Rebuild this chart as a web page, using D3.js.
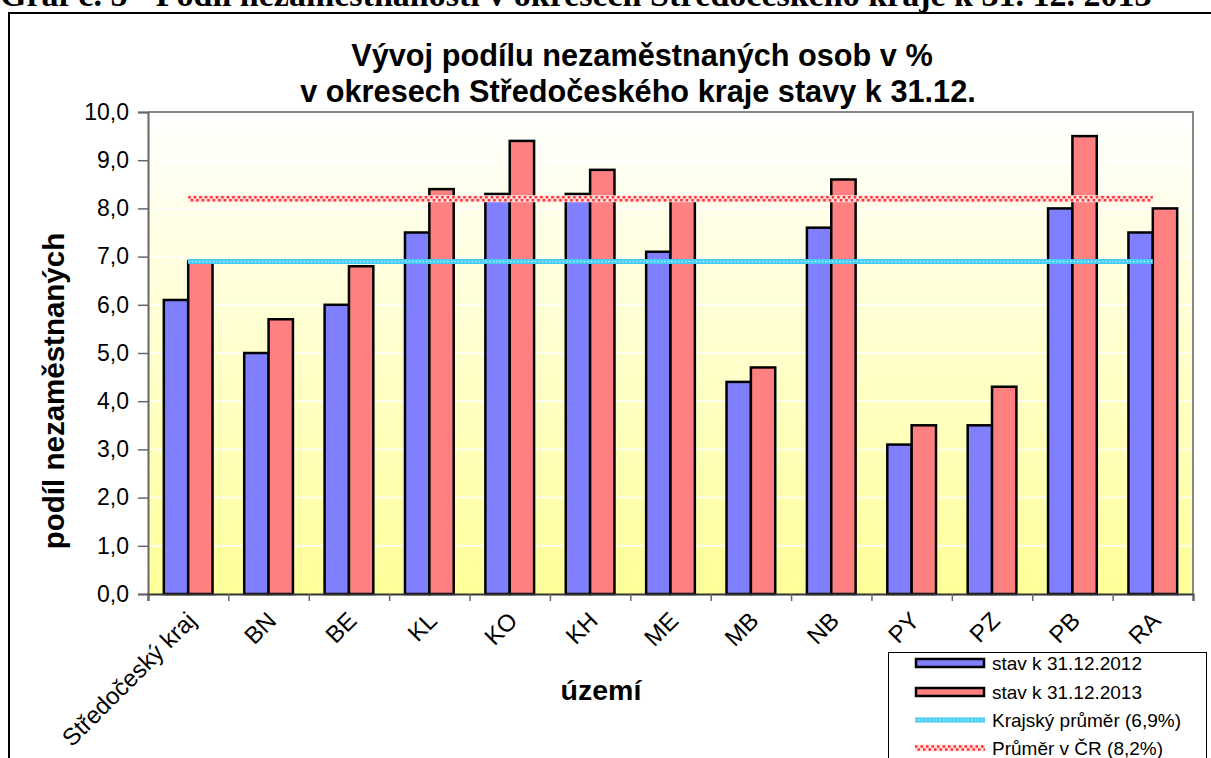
<!DOCTYPE html>
<html><head><meta charset="utf-8">
<script src="https://cdn.jsdelivr.net/npm/d3@7/dist/d3.min.js"></script>
<style>
body{margin:0;background:#fff;}
svg{display:block;font-family:"Liberation Sans",Arial,sans-serif;}
</style></head>
<body>
<svg id="c" width="1211" height="758"></svg>
<script>
const categories = ["Středočeský kraj","BN","BE","KL","KO","KH","ME","MB","NB","PY","PZ","PB","RA"];
const values2012 = [6.1,5.0,6.0,7.5,8.3,8.3,7.1,4.4,7.6,3.1,3.5,8.0,7.5];
const values2013 = [6.9,5.7,6.8,8.4,9.4,8.8,8.2,4.7,8.6,3.5,4.3,9.5,8.0];
const seriesNames = ["stav k 31.12.2012","stav k 31.12.2013"];
const krajAvg = 6.9;
const crAvg = 8.2;
const lineNames = ["Krajský průměr (6,9%)","Průměr v ČR (8,2%)"];
const yTicks = [0,1,2,3,4,5,6,7,8,9,10];

const svg = d3.select("#c");
const L=148, R=1193, T=112, B=594;
const fmt = d => d.toFixed(1).replace(".", ",");

// header (cut off at top edge as in the reference)
svg.append("text").attr("x",0).attr("y",6)
  .style("font-family","'Liberation Serif',serif").style("font-weight","bold").style("font-size","34px")
  .text("Graf č. 5 - Podíl nezaměstnanosti v okresech Středočeského kraje k 31. 12. 2013");
// outer frame
svg.append("path").attr("d",`M9,760 V13 H1215`).attr("fill","none").attr("stroke","#000").attr("stroke-width",2);

const defs = svg.append("defs");
const g = defs.append("linearGradient").attr("id","bg").attr("x1",0).attr("y1",0).attr("x2",0).attr("y2",1);
g.append("stop").attr("offset","0%").attr("stop-color","#ffffff");
g.append("stop").attr("offset","100%").attr("stop-color","#ffff99");

const x0 = d3.scaleBand().domain(categories).range([L,R]).padding(0);
const x1 = d3.scaleBand().domain(seriesNames).range([0,x0.bandwidth()]).paddingInner(0).paddingOuter(0.65);
const xt = d3.scaleLinear().domain([0,categories.length]).range([L,R]);
const y = d3.scaleLinear().domain([0,10]).range([B,T]);

svg.append("rect").attr("x",L).attr("y",T).attr("width",R-L).attr("height",B-T).attr("fill","url(#bg)");
// gridlines
svg.append("g").selectAll("line").data(yTicks.slice(1,-1)).join("line")
  .attr("x1",L).attr("x2",R).attr("y1",d=>y(d)).attr("y2",d=>y(d))
  .attr("stroke","#ffffff").attr("stroke-width",1.5);
// plot border top/right
svg.append("path").attr("d",`M${L},${T} H${R} V${B}`).attr("fill","none").attr("stroke","#888").attr("stroke-width",2);

// bars
const colors = ["#8080ff","#ff8080"];
const data = categories.map((c,i)=>({c, v:[values2012[i],values2013[i]]}));
const grp = svg.append("g").selectAll("g").data(data).join("g").attr("transform",d=>`translate(${x0(d.c)},0)`);
grp.selectAll("rect").data(d=>d.v.map((v,j)=>({v,j}))).join("rect")
  .attr("x",d=>x1(seriesNames[d.j])).attr("width",x1.bandwidth())
  .attr("y",d=>y(d.v)).attr("height",d=>B-y(d.v))
  .attr("fill",d=>colors[d.j]).attr("stroke","#000").attr("stroke-width",2.5);

// average lines
const c0 = x0(categories[0])+x0.bandwidth()/2, c1 = x0(categories[categories.length-1])+x0.bandwidth()/2;
function cyanLine(sel,xa,xb,yy){
  sel.append("line").attr("x1",xa).attr("x2",xb).attr("y1",yy).attr("y2",yy).attr("stroke","#44ccf4").attr("stroke-width",5);
  sel.append("line").attr("x1",xa).attr("x2",xb).attr("y1",yy).attr("y2",yy).attr("stroke","#b8ecff").attr("stroke-width",1.5).attr("stroke-dasharray","1.5,2");
}
function redLine(sel,xa,xb,yy){
  sel.append("line").attr("x1",xa).attr("x2",xb).attr("y1",yy).attr("y2",yy).attr("stroke","#ffe0e0").attr("stroke-width",7);
  sel.append("line").attr("x1",xa).attr("x2",xb).attr("y1",yy-1.5).attr("y2",yy-1.5).attr("stroke","#ff3030").attr("stroke-width",2.5).attr("stroke-dasharray","2.5,3");
  sel.append("line").attr("x1",xa+2.5).attr("x2",xb).attr("y1",yy+1.5).attr("y2",yy+1.5).attr("stroke","#ff3030").attr("stroke-width",2.5).attr("stroke-dasharray","2.5,3");
}
const lg = svg.append("g");
cyanLine(lg,c0,c1,y(krajAvg));
redLine(lg,c0,c1,y(crAvg));

// axes
const ya = svg.append("g").attr("transform",`translate(${L},0)`)
  .call(d3.axisLeft(y).tickValues(yTicks).tickFormat(fmt).tickSizeOuter(0).tickSize(10).tickPadding(9));
ya.select(".domain").attr("stroke","#666").attr("stroke-width",2);
ya.selectAll(".tick line").attr("stroke","#666").attr("stroke-width",1.5);
ya.selectAll(".tick text").style("font-size","23px").style("font-family","'Liberation Sans',Arial,sans-serif").attr("fill","#000");

const xa = svg.append("g").attr("transform",`translate(0,${B})`)
  .call(d3.axisBottom(xt).tickValues(d3.range(categories.length+1)).tickFormat("").tickSizeOuter(0).tickSize(7));
xa.select(".domain").attr("stroke","#333").attr("stroke-width",2);
xa.selectAll(".tick line").attr("stroke","#666").attr("stroke-width",1.5);

svg.append("g").selectAll("text").data(categories).join("text")
  .attr("transform",d=>`translate(${x0(d)+x0.bandwidth()/2-3},${B+16}) rotate(-45)`)
  .attr("text-anchor","end").attr("dy","0.72em").style("font-size","24px").text(d=>d);

// titles
svg.append("text").attr("x",642).attr("y",66).attr("text-anchor","middle")
  .style("font-weight","bold").style("font-size","30.7px").text("Vývoj podílu nezaměstnaných osob v %");
svg.append("text").attr("x",638).attr("y",102).attr("text-anchor","middle")
  .style("font-weight","bold").style("font-size","30.7px").text("v okresech Středočeského kraje stavy k 31.12.");
svg.append("text").attr("transform","translate(64,391) rotate(-90)").attr("text-anchor","middle")
  .style("font-weight","bold").style("font-size","29.5px").text("podíl nezaměstnaných");
svg.append("text").attr("x",601).attr("y",700).attr("text-anchor","middle")
  .style("font-weight","bold").style("font-size","28.5px").text("území");

// legend
const leg = svg.append("g");
leg.append("rect").attr("x",888.5).attr("y",652.5).attr("width",318).attr("height",120).attr("fill","#fff").attr("stroke","#000").attr("stroke-width",1);
const rows = [663,692,720,748];
seriesNames.forEach((n,i)=>{
  leg.append("rect").attr("x",916).attr("y",rows[i]-4).attr("width",68).attr("height",8)
    .attr("fill",colors[i]).attr("stroke","#000").attr("stroke-width",2.5);
  leg.append("text").attr("x",992).attr("y",rows[i]).attr("dy","0.35em").style("font-size","19px").text(n);
});
cyanLine(leg,915,985,rows[2]);
redLine(leg,915,985,rows[3]);
lineNames.forEach((n,i)=>{
  leg.append("text").attr("x",992).attr("y",rows[2+i]).attr("dy","0.35em").style("font-size","19px").text(n);
});
</script>
</body></html>
